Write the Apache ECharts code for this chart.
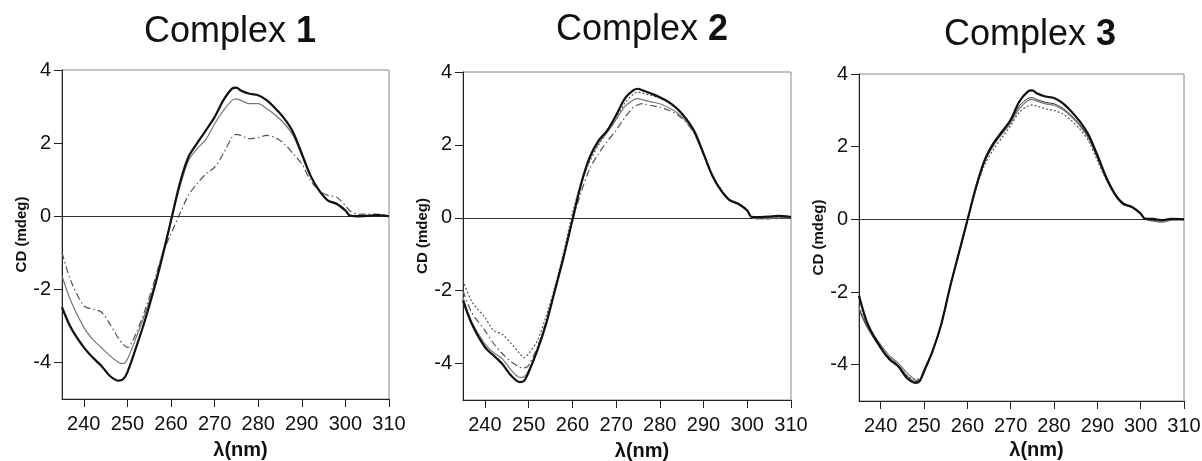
<!DOCTYPE html>
<html>
<head>
<meta charset="utf-8">
<script src="https://cdn.jsdelivr.net/npm/echarts@6/dist/echarts.min.js"></script>
<style>
html,body{margin:0;padding:0;background:#fff;}
#main{width:1202px;height:461px;}
</style>
</head>
<body>
<div id="main"></div>
<script>
// ---- data ----
const wavelengths = [235,237,240,242,244,246,248,249,250,252,254,256,258,260,262,264,266,268,270,272,274,275,276,278,280,282,284,286,288,290,292,294,296,298,300,301,303,305,307,310];
const xTicks = [240,250,260,270,280,290,300,310];
const yTicks = [-4,-2,0,2,4];
const panelTitles = ['1','2','3'];

// Complex 1
const c1_thick   = [-2.49,-3.04,-3.59,-3.86,-4.09,-4.37,-4.50,-4.46,-4.27,-3.59,-2.86,-2.04,-1.12,-0.12,0.89,1.62,2.00,2.35,2.71,3.17,3.49,3.52,3.44,3.35,3.31,3.17,2.94,2.67,2.30,1.71,1.11,0.70,0.43,0.34,0.16,0.02,0.00,0.01,0.03,0.00];
const c1_gray    = [-1.63,-2.31,-3.04,-3.36,-3.59,-3.82,-4.00,-4.03,-3.91,-3.32,-2.68,-1.95,-1.03,-0.12,0.79,1.52,1.85,2.10,2.53,2.89,3.17,3.21,3.17,3.08,3.08,2.94,2.76,2.53,2.21,1.66,1.11,0.70,0.43,0.32,0.14,0.02,-0.02,0.00,0.02,0.00];
const c1_dashdot = [-0.99,-1.76,-2.45,-2.54,-2.62,-2.95,-3.35,-3.50,-3.59,-3.20,-2.58,-1.85,-1.03,-0.48,0.06,0.57,0.89,1.16,1.34,1.71,2.16,2.24,2.21,2.12,2.15,2.21,2.15,1.98,1.71,1.43,0.98,0.70,0.57,0.52,0.29,0.15,0.05,0.06,0.06,0.00];

// Complex 2
const c2_thick   = [-2.27,-2.91,-3.55,-3.78,-4.01,-4.33,-4.51,-4.47,-4.24,-3.64,-2.91,-2.00,-1.08,-0.07,0.93,1.67,2.12,2.40,2.81,3.27,3.50,3.54,3.50,3.41,3.31,3.18,2.99,2.72,2.35,1.76,1.16,0.75,0.48,0.38,0.20,0.02,0.02,0.03,0.05,0.02];
const c2_gray    = [-2.18,-2.85,-3.46,-3.70,-3.87,-4.18,-4.38,-4.36,-4.19,-3.60,-2.88,-1.98,-1.05,-0.05,0.90,1.62,2.05,2.35,2.70,3.05,3.24,3.27,3.24,3.18,3.13,3.02,2.88,2.65,2.30,1.74,1.15,0.74,0.47,0.37,0.19,0.00,-0.03,-0.02,0.00,0.00];
const c2_dashdot = [-2.00,-2.60,-3.09,-3.45,-3.73,-3.95,-4.10,-4.12,-4.05,-3.55,-2.85,-1.98,-1.05,-0.10,0.70,1.35,1.76,2.10,2.40,2.75,3.04,3.10,3.13,3.08,3.04,2.95,2.83,2.62,2.28,1.72,1.15,0.76,0.50,0.39,0.20,0.00,-0.03,-0.03,0.02,0.00];
const c2_dotted  = [-1.72,-2.30,-2.73,-3.09,-3.20,-3.45,-3.73,-3.84,-3.73,-3.37,-2.70,-1.90,-0.95,0.11,0.95,1.55,2.00,2.35,2.70,3.15,3.40,3.45,3.42,3.36,3.28,3.15,2.97,2.70,2.36,1.78,1.18,0.78,0.50,0.40,0.22,0.05,0.02,0.01,0.03,0.02];

// Complex 3
const c3_thick   = [-2.10,-2.88,-3.53,-3.85,-4.04,-4.36,-4.50,-4.45,-4.18,-3.62,-2.88,-1.87,-0.95,-0.03,0.89,1.63,2.09,2.41,2.74,3.24,3.52,3.55,3.47,3.38,3.34,3.20,2.97,2.69,2.32,1.77,1.17,0.71,0.43,0.34,0.16,0.02,0.01,-0.02,0.01,0.00];
const c3_gray    = [-2.45,-2.95,-3.45,-3.75,-3.95,-4.22,-4.42,-4.45,-4.22,-3.62,-2.88,-1.87,-0.95,-0.05,0.85,1.58,2.02,2.35,2.65,3.05,3.27,3.30,3.26,3.18,3.14,3.02,2.82,2.57,2.22,1.68,1.12,0.68,0.40,0.33,0.14,0.00,-0.05,-0.08,-0.03,-0.01];
const c3_thin    = [-2.50,-3.00,-3.55,-3.80,-4.00,-4.30,-4.46,-4.44,-4.20,-3.62,-2.88,-1.87,-0.95,-0.04,0.87,1.60,2.05,2.38,2.70,3.12,3.33,3.35,3.30,3.22,3.18,3.06,2.86,2.60,2.26,1.72,1.14,0.70,0.42,0.34,0.15,0.01,-0.03,-0.05,0.00,0.00];
const c3_dotted  = [-2.40,-2.95,-3.50,-3.85,-4.05,-4.30,-4.40,-4.40,-4.20,-3.62,-2.88,-1.87,-0.95,-0.05,0.82,1.50,1.92,2.25,2.58,2.95,3.12,3.15,3.12,3.04,3.00,2.90,2.72,2.48,2.15,1.62,1.10,0.68,0.40,0.33,0.14,0.00,-0.02,-0.03,0.00,0.00];

// ---- styles ----
const FONT = '"Liberation Sans", Arial, sans-serif';
const styles = {
  thick:   {color:'#111', width:2.2, type:'solid'},
  gray:    {color:'#777', width:1.2, type:'solid'},
  thin:    {color:'#333', width:1.0, type:'solid'},
  dashdot: {color:'#555', width:1.2, type:[7,3,1.5,3]},
  dotted:  {color:'#555', width:1.2, type:[2,2]}
};

const panels = [
  {grid:{left:62, top:70, width:327, height:329}, series:[['dashdot',c1_dashdot],['gray',c1_gray],['thick',c1_thick]], title:{x:230,y:32}, yname:{gap:33}, xgap:41},
  {grid:{left:463, top:72, width:328, height:328}, series:[['dotted',c2_dotted],['dashdot',c2_dashdot],['gray',c2_gray],['thick',c2_thick]], title:{x:642,y:30}, yname:{gap:33}, xgap:41},
  {grid:{left:859, top:74, width:325, height:327}, series:[['dotted',c3_dotted],['gray',c3_gray],['thin',c3_thin],['thick',c3_thick]], title:{x:1030,y:35}, yname:{gap:33}, xgap:37}
];

const grids = [], xAxes = [], yAxes = [], seriesList = [], graphics = [];
panels.forEach((p, i) => {
  grids.push(Object.assign({show:true, borderColor:'#888', borderWidth:1, backgroundColor:'#fff',
    containLabel:false, outerBoundsMode:'none'}, p.grid));
  xAxes.push({
    type:'value', gridIndex:i, min:235, max:310,
    axisLine:{show:true, onZero:false, lineStyle:{color:'#222', width:1}},
    axisTick:{show:true, length:8, customValues:xTicks, lineStyle:{color:'#222'}},
    axisLabel:{customValues:xTicks, color:'#111', fontSize:20, fontFamily:FONT, margin:15},
    splitLine:{show:false},
    name:'λ(nm)', nameLocation:'middle', nameGap:p.xgap,
    nameTextStyle:{color:'#111', fontSize:20, fontWeight:'bold', fontFamily:FONT, padding:[0,0,0,30]}
  });
  yAxes.push({
    type:'value', gridIndex:i, min:-5, max:4,
    axisLine:{show:true, onZero:false, lineStyle:{color:'#222', width:1}},
    axisTick:{show:true, length:8, customValues:yTicks, lineStyle:{color:'#222'}},
    axisLabel:{customValues:yTicks, color:'#111', fontSize:20, fontFamily:FONT, margin:11},
    splitLine:{show:false},
    name:'CD (mdeg)', nameLocation:'middle', nameGap:p.yname.gap, nameRotate:90,
    nameTextStyle:{color:'#111', fontSize:15, fontWeight:'bold', fontFamily:FONT}
  });
  p.series.forEach(([key, vals], k) => {
    const st = styles[key];
    seriesList.push({
      type:'line', xAxisIndex:i, yAxisIndex:i, showSymbol:false, smooth:0.3,
      data: wavelengths.map((w, j) => [w, vals[j]]),
      lineStyle:{color:st.color, width:st.width, type:st.type},
      z: 3 + k,
      markLine: k === 0 ? {silent:true, symbol:'none', label:{show:false},
        lineStyle:{color:'#333', width:1, type:'solid'}, data:[{yAxis:0}]} : undefined
    });
  });
  graphics.push({
    type:'text', x:p.title.x, y:p.title.y,
    style:{text:'Complex {b|' + panelTitles[i] + '}', font:'36px ' + FONT, fill:'#111',
      textAlign:'center', textVerticalAlign:'middle',
      rich:{b:{fontWeight:'bold', fontSize:36, fontFamily:FONT, fill:'#111'}}}
  });
});

const chart = echarts.init(document.getElementById('main'), null, {renderer:'canvas'});
chart.setOption({
  animation:false,
  backgroundColor:'#fff',
  grid:grids, xAxis:xAxes, yAxis:yAxes, series:seriesList, graphic:graphics
});
</script>
</body>
</html>
